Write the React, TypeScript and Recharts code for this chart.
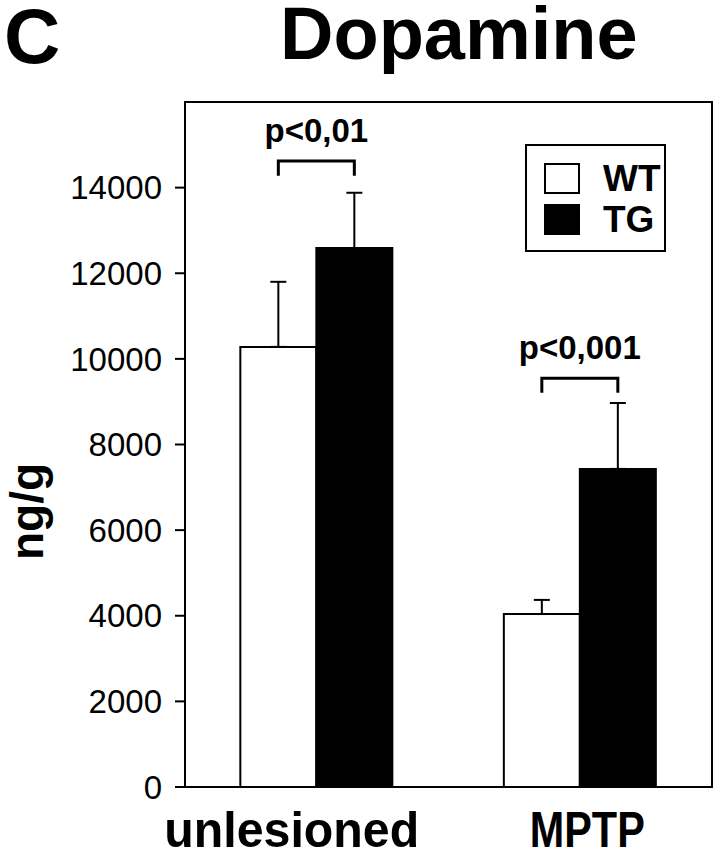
import React from 'react'
import {
  BarChart,
  Bar,
  XAxis,
  YAxis,
  ErrorBar,
  LabelList,
  Legend,
  ReferenceArea,
} from 'recharts'

// values (ng/g)
const groups = ['unlesioned', 'MPTP']
const wtMean = [10280, 4040]
const wtSem = [1520, 330]
const tgMean = [12590, 7430]
const tgSem = [1290, 1540]
const pLabels = ['p<0,01', 'p<0,001']
const bracketLevel = [14620, 9550]
const bracketLeg = 340
const yTicks = [0, 2000, 4000, 6000, 8000, 10000, 12000, 14000]
const yMax = 16000
const seriesOrder = ['WT', 'TG']

const rows = groups.map((g, i) => ({
  group: g,
  wt: wtMean[i],
  tg: tgMean[i],
  wtErr: [0, wtSem[i]],
  tgErr: [0, tgSem[i]],
}))

const FONT = '"Liberation Sans", Arial, Helvetica, sans-serif'

// label nudges / widths to mimic the printed figure
const labelShift = [-25, 7]
const labelWidth = [255, 115]

function CategoryTick({ x, y, payload, index }: any) {
  return (
    <text
      x={x + labelShift[index]}
      y={y + 60}
      textAnchor="middle"
      fontSize={50}
      fontWeight="bold"
      fontFamily={FONT}
      fill="#000"
      textLength={labelWidth[index]}
      lengthAdjust="spacingAndGlyphs"
    >
      {payload.value}
    </text>
  )
}

function renderBracket(props: any) {
  const vb = props.viewBox ?? props
  const { x, y, width, height } = vb
  const index = props.index
  const value = tgMean[index]
  const perUnit = height / value
  const base = y + height
  const top = base - bracketLevel[index] * perUnit
  const leg = bracketLeg * perUnit
  const x1 = x - width / 2
  const x2 = x + width / 2
  return (
    <g>
      <path
        d={`M${x1},${top + leg} V${top} H${x2} V${top + leg}`}
        fill="none"
        stroke="#000"
        strokeWidth={3}
      />
      <text
        x={(x1 + x2) / 2}
        y={top - 19}
        textAnchor="middle"
        fontSize={33}
        fontWeight="bold"
        fontFamily={FONT}
        fill="#000"
      >
        {pLabels[index]}
      </text>
    </g>
  )
}

function LegendBox({ payload }: any) {
  const items = [...(payload || [])].sort(
    (a: any, b: any) => seriesOrder.indexOf(a.value) - seriesOrder.indexOf(b.value)
  )
  return (
    <div
      style={{
        boxSizing: 'border-box',
        width: 141,
        height: 108,
        border: '2px solid #000',
        background: '#fff',
        padding: '17px 0 0 17px',
        fontFamily: FONT,
      }}
    >
      {items.map((entry: any, i: number) => (
        <div
          key={entry.value}
          style={{ display: 'flex', alignItems: 'center', height: 31, marginBottom: i === 0 ? 10 : 0 }}
        >
          <div
            style={{
              boxSizing: 'border-box',
              width: 36,
              height: 31,
              border: '2px solid #000',
              background: entry.color,
            }}
          />
          <span
            style={{
              marginLeft: 23,
              fontSize: 37,
              fontWeight: 'bold',
              lineHeight: 1,
              color: '#000',
            }}
          >
            {entry.value}
          </span>
        </div>
      ))}
    </div>
  )
}

export default function App() {
  return (
    <div style={{ position: 'absolute', left: 0, top: 0, width: 720, height: 853, background: '#fff' }}>
      <BarChart
        width={720}
        height={853}
        data={rows}
        margin={{ top: 102, right: 8, bottom: 0, left: 0 }}
        barCategoryGap="21%"
        barGap={0}
      >
        <XAxis
          dataKey="group"
          height={66}
          axisLine={{ stroke: '#000', strokeWidth: 2 }}
          tickLine={false}
          tickSize={0}
          tickMargin={0}
          tick={<CategoryTick />}
          interval={0}
        />
        <YAxis
          width={185}
          domain={[0, yMax]}
          ticks={yTicks}
          interval={0}
          axisLine={{ stroke: '#000', strokeWidth: 2 }}
          tickLine={{ stroke: '#000', strokeWidth: 2 }}
          tickSize={10}
          tickMargin={13}
          tick={{ fill: '#000', fontSize: 33, fontFamily: FONT }}
          label={{
            content: ({ viewBox }: any) => (
              <text
                transform={`translate(43, ${viewBox.y + viewBox.height / 2 + 67}) rotate(-90)`}
                textAnchor="middle"
                fontSize={46}
                fontWeight="bold"
                fontFamily={FONT}
                fill="#000"
              >
                ng/g
              </text>
            ),
          }}
        />
        {/* plot frame */}
        <ReferenceArea
          x1={groups[0]}
          x2={groups[groups.length - 1]}
          y1={0}
          y2={yMax}
          fill="none"
          fillOpacity={0}
          stroke="#000"
          strokeWidth={2}
          ifOverflow="visible"
        />
        <Legend
          layout="vertical"
          align="center"
          verticalAlign="middle"
          content={<LegendBox />}
          wrapperStyle={{ left: 525, top: 144, width: 141, height: 108 }}
        />
        <Bar dataKey="wt" name="WT" fill="#ffffff" stroke="#000" strokeWidth={2} isAnimationActive={false}>
          <ErrorBar dataKey="wtErr" width={8} stroke="#000" strokeWidth={2} direction="y" />
        </Bar>
        <Bar dataKey="tg" name="TG" fill="#000000" stroke="#000" strokeWidth={2} isAnimationActive={false}>
          <ErrorBar dataKey="tgErr" width={8} stroke="#000" strokeWidth={2} direction="y" />
          <LabelList dataKey="tg" content={renderBracket} />
        </Bar>
      </BarChart>
      <svg
        width={720}
        height={853}
        style={{ position: 'absolute', left: 0, top: 0, pointerEvents: 'none' }}
      >
        <text x={4} y={63} fontSize={78} fontWeight="bold" fontFamily={FONT} fill="#000">
          C
        </text>
        <text x={280} y={59} fontSize={74} fontWeight="bold" fontFamily={FONT} fill="#000">
          Dopamine
        </text>
      </svg>
    </div>
  )
}
